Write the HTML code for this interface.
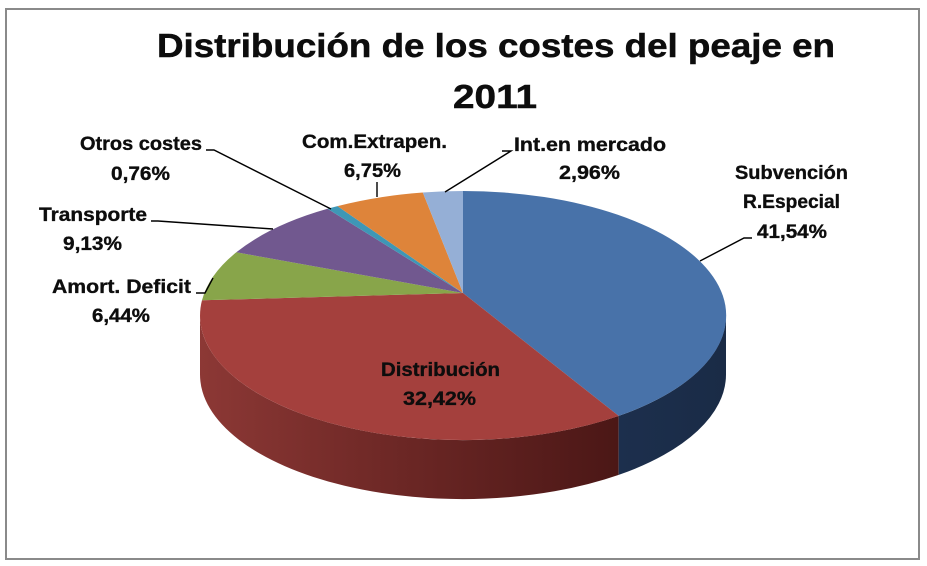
<!DOCTYPE html>
<html>
<head>
<meta charset="utf-8">
<style>
  html,body{margin:0;padding:0;background:#fff;}
  svg{display:block;}
  text{font-family:"Liberation Sans",sans-serif;font-weight:bold;fill:#0d0d0d;stroke:#0d0d0d;stroke-width:0.35;}
</style>
</head>
<body>
<svg width="927" height="566" viewBox="0 0 927 566" xmlns="http://www.w3.org/2000/svg">
  <defs>
    <linearGradient id="redSide" x1="200" y1="0" x2="619" y2="0" gradientUnits="userSpaceOnUse">
      <stop offset="0" stop-color="#8c3835"/>
      <stop offset="0.45" stop-color="#6e2826"/>
      <stop offset="1" stop-color="#4b1716"/>
    </linearGradient>
    <linearGradient id="blueSide" x1="619" y1="0" x2="726" y2="0" gradientUnits="userSpaceOnUse">
      <stop offset="0" stop-color="#1c2f4d"/>
      <stop offset="1" stop-color="#1a2b46"/>
    </linearGradient>
  </defs>

  <rect x="0" y="0" width="927" height="566" fill="#fff"/>
  <rect x="6" y="9" width="913" height="550" fill="#fff" stroke="#8a8a8a" stroke-width="2"/>

  <!-- title -->
  <text x="157" y="57" font-size="33" textLength="678" lengthAdjust="spacingAndGlyphs" style="stroke-width:0.5">Distribución de los costes del peaje en</text>
  <text x="453" y="108" font-size="33" textLength="84" lengthAdjust="spacingAndGlyphs" style="stroke-width:0.5">2011</text>

  <!-- sides -->
  <path d="M618.7,415.9 A263,124.5 0 0 1 200,315.5 L200,374.5 A263,124.5 0 0 0 618.7,474.9 Z" fill="url(#redSide)"/>
  <path d="M726,315.5 A263,124.5 0 0 1 618.7,415.9 L618.7,474.9 A263,124.5 0 0 0 726,374.5 Z" fill="url(#blueSide)"/>

  <!-- top slices -->
  <path d="M463,293 L463,191 A263,124.5 0 0 1 618.7,415.9 Z" fill="#4872a9"/>
  <path d="M463,293 L618.7,415.9 A263,124.5 0 0 1 202,300.3 Z" fill="#a4403d"/>
  <path d="M463,293 L202,300.3 A263,124.5 0 0 1 236.3,252.3 Z" fill="#88a54a"/>
  <path d="M463,293 L236.3,252.3 A263,124.5 0 0 1 327.5,208.8 Z" fill="#71588f"/>
  <path d="M463,293 L327.5,208.8 A263,124.5 0 0 1 337.5,206.1 Z" fill="#3e97b6"/>
  <path d="M463,293 L337.5,206.1 A263,124.5 0 0 1 422.8,192.5 Z" fill="#de843a"/>
  <path d="M463,293 L422.8,192.5 A263,124.5 0 0 1 463,191 Z" fill="#95afd6"/>

  <!-- leader lines -->
  <g fill="none" stroke="#000" stroke-width="1.4">
    <polyline points="206,150 214,150 331,209"/>
    <polyline points="151,221 158,221 273,229"/>
    <polyline points="196,293 205,293 213,278"/>
    <polyline points="377,182 377,197"/>
    <polyline points="502,151 511,151 445,192"/>
    <polyline points="752,238 744,238 700,261"/>
  </g>

  <!-- labels -->
  <g font-size="19.5">
    <text x="80" y="150" textLength="122" lengthAdjust="spacingAndGlyphs">Otros costes</text>
    <text x="111" y="180" textLength="59" lengthAdjust="spacingAndGlyphs">0,76%</text>
    <text x="39" y="221" textLength="108" lengthAdjust="spacingAndGlyphs">Transporte</text>
    <text x="63" y="250" textLength="59" lengthAdjust="spacingAndGlyphs">9,13%</text>
    <text x="52" y="293" textLength="139" lengthAdjust="spacingAndGlyphs">Amort. Deficit</text>
    <text x="92" y="322" textLength="58" lengthAdjust="spacingAndGlyphs">6,44%</text>
    <text x="302" y="148" textLength="145" lengthAdjust="spacingAndGlyphs">Com.Extrapen.</text>
    <text x="344" y="177" textLength="57" lengthAdjust="spacingAndGlyphs">6,75%</text>
    <text x="514" y="151" textLength="152" lengthAdjust="spacingAndGlyphs">Int.en mercado</text>
    <text x="559" y="179" textLength="61" lengthAdjust="spacingAndGlyphs">2,96%</text>
    <text x="735" y="179" textLength="113" lengthAdjust="spacingAndGlyphs">Subvención</text>
    <text x="743" y="208" textLength="97" lengthAdjust="spacingAndGlyphs">R.Especial</text>
    <text x="757" y="238" textLength="70" lengthAdjust="spacingAndGlyphs">41,54%</text>
    <text x="381" y="376" textLength="119" lengthAdjust="spacingAndGlyphs">Distribución</text>
    <text x="403" y="405" textLength="73" lengthAdjust="spacingAndGlyphs">32,42%</text>
  </g>
</svg>
</body>
</html>
